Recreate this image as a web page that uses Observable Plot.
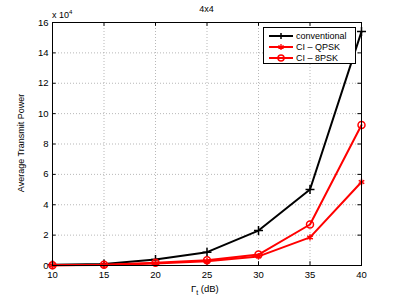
<!DOCTYPE html>
<html><head><meta charset="utf-8">
<script src="https://cdn.jsdelivr.net/npm/d3@7"></script>
<script src="https://cdn.jsdelivr.net/npm/@observablehq/plot@0.6"></script>
<style>
body{margin:0;background:#fff;font-family:"Liberation Sans",Arial,sans-serif;}
#wrap{position:relative;width:399px;height:300px;}
.ov{position:absolute;font-size:9px;color:#000;}
</style></head><body>
<div id="wrap"></div>
<script>
const gammaDb = [10, 15, 20, 25, 30, 35, 40];
const conventional = [0.05, 0.1, 0.4, 0.88, 2.3, 5.0, 15.4];
const ciQPSK = [0.02, 0.04, 0.13, 0.28, 0.6, 1.85, 5.5];
const ci8PSK = [0.02, 0.05, 0.18, 0.35, 0.72, 2.7, 9.25];
const xTicks = [10, 15, 20, 25, 30, 35, 40];
const yTicks = [0, 2, 4, 6, 8, 10, 12, 14, 16];
const seriesNames = ["conventional", "CI \u2013 QPSK", "CI \u2013 8PSK"];

const rows = (vals, name) => gammaDb.map((g, i) => ({g, v: vals[i], name}));
const conv = rows(conventional, seriesNames[0]);
const qpsk = rows(ciQPSK, seriesNames[1]);
const psk8 = rows(ci8PSK, seriesNames[2]);

const chart = Plot.plot({
  width: 399, height: 300,
  marginLeft: 52, marginRight: 38, marginTop: 22, marginBottom: 35,
  style: {fontFamily: "Liberation Sans, Arial, sans-serif", fontSize: "9.5px", color: "#000"},
  x: {domain: [10, 40], ticks: xTicks, label: null, tickSize: 0, tickPadding: 6},
  y: {domain: [0, 16], ticks: yTicks, label: null, tickSize: 0, tickPadding: 4},
  marks: [
    Plot.gridX(xTicks, {stroke: "#999", strokeOpacity: 1, strokeDasharray: "1,2", strokeWidth: 0.7}),
    Plot.gridY(yTicks, {stroke: "#999", strokeOpacity: 1, strokeDasharray: "1,2", strokeWidth: 0.7}),
    Plot.ruleX(xTicks, {x: d => d, y1: 0, y2: 0.25, stroke: "#000"}),
    Plot.ruleX(xTicks, {x: d => d, y1: 15.75, y2: 16, stroke: "#000"}),
    Plot.ruleY(yTicks, {y: d => d, x1: 10, x2: 10.35, stroke: "#000"}),
    Plot.ruleY(yTicks, {y: d => d, x1: 39.65, x2: 40, stroke: "#000"}),
    Plot.line(conv, {x: "g", y: "v", stroke: "#000", strokeWidth: 2}),
    Plot.dot(conv, {x: "g", y: "v", symbol: "plus", stroke: "#000", strokeWidth: 1.5, r: 3}),
    Plot.line(qpsk, {x: "g", y: "v", stroke: "#f00", strokeWidth: 2}),
    Plot.dot(qpsk, {x: "g", y: "v", symbol: "asterisk", stroke: "#f00", strokeWidth: 1.5, r: 3}),
    Plot.line(psk8, {x: "g", y: "v", stroke: "#f00", strokeWidth: 2}),
    Plot.dot(psk8, {x: "g", y: "v", symbol: "circle", stroke: "#f00", fill: "none", strokeWidth: 1.5, r: 3.5}),
    Plot.frame({stroke: "#000", strokeWidth: 1})
  ]
});
const wrap = document.getElementById("wrap");
wrap.appendChild(chart);

function ov(html, css){const d=document.createElement("div");d.className="ov";d.innerHTML=html;Object.assign(d.style,css);wrap.appendChild(d);return d;}
ov("4x4", {left:"0px", width:"399px", top:"4px", textAlign:"center", paddingLeft:"14px", boxSizing:"border-box"});
ov("x 10<sup style='font-size:6px;vertical-align:4px'>4</sup>", {left:"52px", top:"9px"});
ov("Average Transmit Power", {left:"21px", top:"143px", transform:"translate(-50%,-50%) rotate(-90deg)", whiteSpace:"nowrap"});
ov("\u0393<sub style='font-size:7px'>t</sub> (dB)", {left:"191px", top:"283px", whiteSpace:"nowrap", fontSize:"9.5px"});

// legend
const leg = document.createElement("div");
Object.assign(leg.style,{position:"absolute",left:"263px",top:"27px",width:"93px",height:"37px",border:"1px solid #000",background:"#fff",boxSizing:"border-box"});
wrap.appendChild(leg);
const styles = [{c:"#000",s:"plus"},{c:"#f00",s:"asterisk"},{c:"#f00",s:"circle"}];
seriesNames.forEach((n,i)=>{
  const row=document.createElement("div");
  Object.assign(row.style,{position:"absolute",left:"4px",top:(2+i*11)+"px",height:"11px",display:"flex",alignItems:"center",fontSize:"9px",whiteSpace:"nowrap"});
  let mk="";
  if(styles[i].s==="plus") mk=`<path d="M13,2V8M10,5H16" stroke="#000" stroke-width="1.5"/>`;
  if(styles[i].s==="asterisk") mk=`<path d="M13,2V8M10.4,3.5L15.6,6.5M10.4,6.5L15.6,3.5" stroke="#f00" stroke-width="1.3"/>`;
  if(styles[i].s==="circle") mk=`<circle cx="13" cy="5" r="3" fill="none" stroke="#f00" stroke-width="1.5"/>`;
  row.innerHTML=`<svg width="27" height="10"><line x1="1" y1="5" x2="25" y2="5" stroke="${styles[i].c}" stroke-width="2"/>${mk}</svg><span style="margin-left:1px">${n}</span>`;
  leg.appendChild(row);
});
</script>
</body></html>
